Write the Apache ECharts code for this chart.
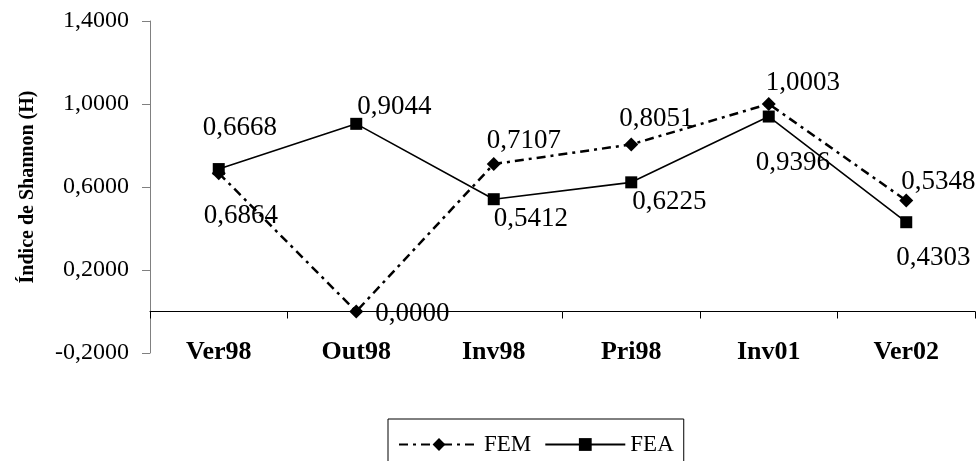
<!DOCTYPE html>
<html>
<head>
<meta charset="utf-8">
<script src="https://cdn.jsdelivr.net/npm/echarts@6/dist/echarts.min.js"></script>
<style>
html,body{margin:0;padding:0;background:#fff;}
#chart{width:980px;height:461px;}
</style>
</head>
<body>
<div id="chart"></div>
<script>
const categories = ['Ver98', 'Out98', 'Inv98', 'Pri98', 'Inv01', 'Ver02'];
const femValues = [0.6668, 0.0000, 0.7107, 0.8051, 1.0003, 0.5348];
const feaValues = [0.6864, 0.9044, 0.5412, 0.6225, 0.9396, 0.4303];
const seriesNames = ['FEM', 'FEA'];
const yTitle = 'Índice de Shannon (H)';

// label placement (styling, not data)
const femLabelOffsets = [[21, -45], [56, 2], [30, -23], [25, -26], [34, -21], [32, -19]];
const feaLabelOffsets = [[22, 47], [38, -17], [37, 20], [38, 20], [24, 46], [27, 36]];

const FONT = '"Liberation Serif", "Times New Roman", serif';
const fmt = v => Number(v).toFixed(4).replace('.', ',');

function mkData(vals, offs) {
  return vals.map((v, i) => ({
    value: v,
    label: { offset: offs[i] }
  }));
}

const chart = echarts.init(document.getElementById('chart'), null, { renderer: 'canvas' });
chart.setOption({
  animation: false,
  backgroundColor: '#fff',
  grid: { left: 150, right: 5, top: 21, bottom: 108, containLabel: false },
  xAxis: [
    {
      type: 'category',
      data: categories,
      boundaryGap: true,
      axisLine: { onZero: true, lineStyle: { color: '#000', width: 1 } },
      axisTick: { show: true, inside: false, length: 7, alignWithLabel: false, lineStyle: { color: '#000' } },
      axisLabel: { show: false },
      splitLine: { show: false }
    },
    {
      type: 'category',
      data: categories,
      position: 'bottom',
      boundaryGap: true,
      axisLine: { show: false, onZero: false },
      axisTick: { show: false },
      axisLabel: {
        show: true, margin: -1, verticalAlign: 'middle',
        fontFamily: FONT, fontWeight: 'bold', fontSize: 26, color: '#000'
      },
      splitLine: { show: false }
    }
  ],
  yAxis: {
    type: 'value',
    min: -0.2,
    max: 1.4,
    interval: 0.4,
    name: yTitle,
    nameLocation: 'middle',
    nameRotate: 90,
    nameGap: 112,
    nameTextStyle: { fontFamily: FONT, fontWeight: 'bold', fontSize: 20, color: '#000' },
    axisLine: { show: true, lineStyle: { color: '#808080', width: 1 } },
    axisTick: { show: true, inside: false, length: 8, lineStyle: { color: '#808080' } },
    axisLabel: {
      formatter: fmt, margin: 21,
      fontFamily: FONT, fontSize: 24, color: '#000'
    },
    splitLine: { show: false }
  },
  legend: {
    data: seriesNames,
    left: 388,
    top: 419,
    padding: [14, 10, 12, 10],
    itemWidth: 80,
    itemHeight: 16,
    itemGap: 13,
    borderColor: '#000',
    borderWidth: 1,
    textStyle: { fontFamily: FONT, fontSize: 23, color: '#000' }
  },
  series: [
    {
      name: seriesNames[0],
      type: 'line',
      xAxisIndex: 0,
      data: mkData(femValues, femLabelOffsets),
      symbol: 'diamond',
      symbolSize: 14,
      itemStyle: { color: '#000' },
      lineStyle: { color: '#000', width: 2.5, type: [9, 5, 3, 5] },
      label: {
        show: true, position: 'inside', formatter: p => fmt(p.value),
        fontFamily: FONT, fontSize: 27, color: '#000'
      },
      z: 3
    },
    {
      name: seriesNames[1],
      type: 'line',
      xAxisIndex: 0,
      data: mkData(feaValues, feaLabelOffsets),
      symbol: 'rect',
      symbolSize: 12,
      itemStyle: { color: '#000' },
      lineStyle: { color: '#000', width: 1.6, type: 'solid' },
      label: {
        show: true, position: 'inside', formatter: p => fmt(p.value),
        fontFamily: FONT, fontSize: 27, color: '#000'
      },
      z: 2
    }
  ]
});
</script>
</body>
</html>
